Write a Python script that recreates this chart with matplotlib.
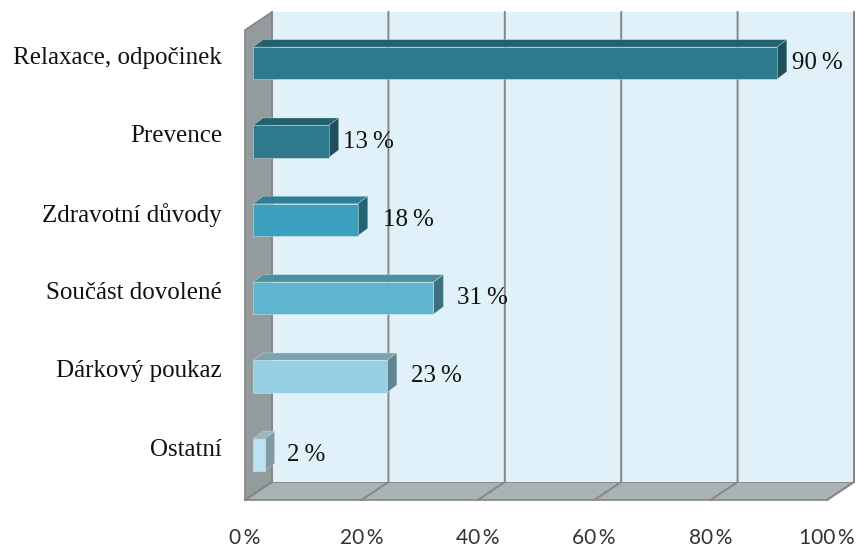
import matplotlib.pyplot as plt
from matplotlib.patches import Polygon

categories = ["Relaxace, odpočinek", "Prevence", "Zdravotní důvody",
              "Součást dovolené", "Dárkový poukaz", "Ostatní"]
shares = [90, 13, 18, 31, 23, 2]
x_ticks = [0, 20, 40, 60, 80, 100]

# (front, top, side) shade for each bar
bar_shades = [
    ("#2e7a8c", "#25606f", "#1e4f5b"),
    ("#2e7a8c", "#25606f", "#1e4f5b"),
    ("#3aa0bd", "#2e7f95", "#246472"),
    ("#5fb5cf", "#4b8fa3", "#3e7180"),
    ("#97d0e2", "#78a5b3", "#5f8590"),
    ("#bde4f0", "#96b5be", "#7f9ba3"),
]
label_pad = [15, 14, 25, 24, 24, 22]  # px between bar end and its label

W, H = 859, 550
DEPTH = 27.0           # px, horizontal run of the box depth
SLOPE = 18.0 / 27.0    # vertical rise per px of depth
BAR_Z = (8.0, 18.0)    # bar front / back depth in px
BAR_H = 0.41

fig = plt.figure(figsize=(W / 100, H / 100), dpi=100)
ax = fig.add_axes([245 / W, 50 / H, 582 / W, 470 / H])
ax.set_xlim(0, 100)
ax.set_ylim(len(categories) - 0.5, -0.5)
for s in ax.spines.values():
    s.set_visible(False)
ax.set_facecolor("none")

# data units per pixel
kx = 100 / 582
ky = len(categories) / 470
y_top, y_bot = -0.5, len(categories) - 0.5


def proj(x, y, z, slope=SLOPE):
    return (x + z * kx, y - z * slope * ky)


def face(pts, fc, ec="none", lw=0.0, zorder=1, slope=SLOPE):
    ax.add_patch(Polygon([proj(*p, slope=slope) for p in pts], closed=True,
                         fc=fc, ec=ec, lw=lw, zorder=zorder, clip_on=False))


grid_c = "#868686"

# left wall, floor, back wall
face([(0, y_top, 0), (0, y_top, DEPTH), (0, y_bot, DEPTH), (0, y_bot, 0)],
     "#939b9c", grid_c, 1.2, zorder=1)
face([(0, y_bot, 0), (0, y_bot, DEPTH), (100, y_bot, DEPTH), (100, y_bot, 0)],
     "#a9b3b5", grid_c, 1.2, zorder=1)
face([(0, y_top, DEPTH), (100, y_top, DEPTH), (100, y_bot, DEPTH), (0, y_bot, DEPTH)],
     "#e0f1f9", zorder=1)

for t in x_ticks:
    xs, ys = zip(proj(t, y_top, DEPTH), proj(t, y_bot, DEPTH), proj(t, y_bot, 0))
    ax.plot(xs, ys, color=grid_c, lw=1.4, zorder=2, clip_on=False,
            solid_joinstyle="miter")

# bars: front face via barh, top and side as polygons
z0, z1 = BAR_Z
bar_slope = 0.75
dx0, dy0 = z0 * kx, z0 * bar_slope * ky
for i, (v, (fc, tc, sc)) in enumerate(zip(shares, bar_shades)):
    yt, yb = i - BAR_H / 2, i + BAR_H / 2
    face([(0, yt, z0), (0, yt, z1), (v, yt, z1), (v, yt, z0)], tc,
         (1, 1, 1, 0.3), 0.6, zorder=3, slope=bar_slope)
    face([(v, yt, z0), (v, yt, z1), (v, yb, z1), (v, yb, z0)], sc,
         (1, 1, 1, 0.3), 0.6, zorder=3, slope=bar_slope)
    ax.barh(i - dy0, v, height=BAR_H, left=dx0, color=fc,
            edgecolor=(1, 1, 1, 0.35), lw=0.7, zorder=4, clip_on=False)
    ax.text(v + dx0 + label_pad[i] * kx, i - dy0, f"{v}\u2009%",
            ha="left", va="center", fontsize=18, family="Liberation Serif",
            color="#111111", zorder=5)

# category labels
for i, name in enumerate(categories):
    ax.text(-23 * kx, i - 11 * ky, name, ha="right", va="center",
            fontsize=18, family="Liberation Serif", color="#111111")

ax.set_yticks([])
ax.set_xticks(x_ticks)
ax.set_xticklabels([f"{t}\u2009%" for t in x_ticks], family="Lato",
                   fontsize=15, color="#333333")
ax.tick_params(axis="x", length=0, pad=20)

fig.savefig("out.png", dpi=100)
